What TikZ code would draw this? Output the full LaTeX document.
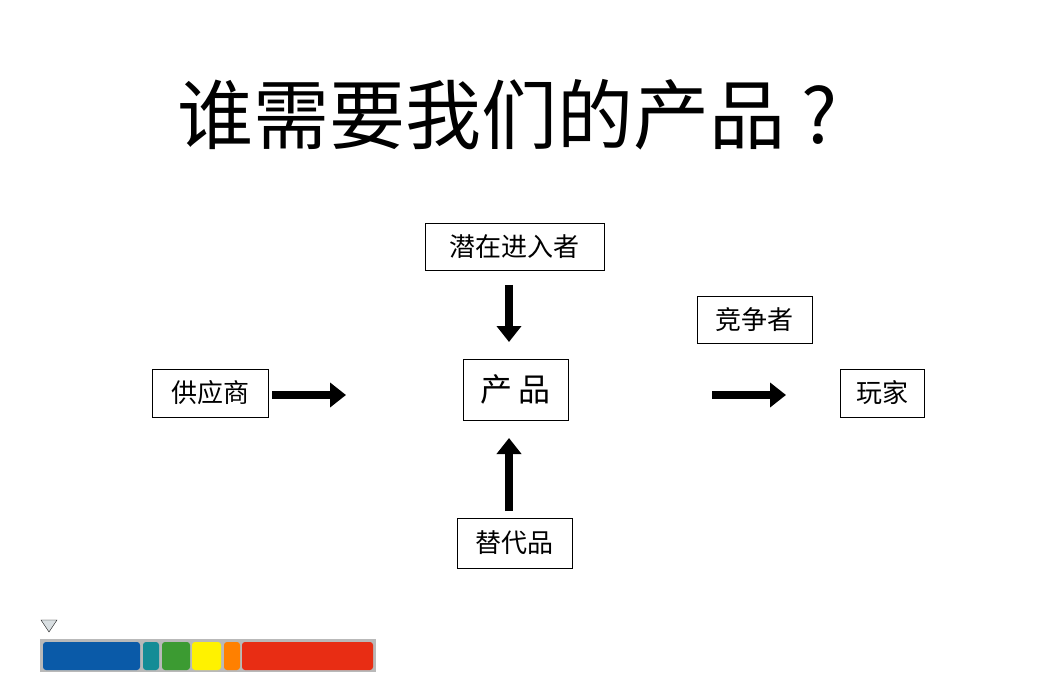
\documentclass[tikz,border=0pt]{standalone}
\usepackage{fontspec}
\setmainfont{Noto Sans CJK SC}
\usetikzlibrary{arrows.meta}
\definecolor{barblue}{RGB}{10,90,168}
\definecolor{barteal}{RGB}{20,140,150}
\definecolor{bargreen}{RGB}{60,155,50}
\definecolor{barred}{RGB}{232,45,20}
\tikzset{
  box/.style={draw,thick,inner sep=0pt,font=\fontsize{26}{30}\selectfont},
  bigarrow/.style={line width=8pt,-{Triangle[length=16pt,width=24pt]}},
}
\begin{document}
\begin{tikzpicture}[x=1pt,y=-1pt]
\useasboundingbox (0,0) rectangle (1056,700);

\node (title) at (508,115) {\fontsize{76}{80}\selectfont 谁需要我们的产品\hspace{16pt}?};

\node[box,minimum width=179,minimum height=47] (entrant) at (514.5,246.5) {潜在进入者};
\node[box,minimum width=105,minimum height=61,font=\fontsize{32}{36}\selectfont] (product) at (515.5,389.5) {产\,品};
\node[box,minimum width=115,minimum height=50] (substitute) at (514.5,543) {替代品};
\node[box,minimum width=116,minimum height=48] (supplier) at (210,393) {供应商};
\node[box,minimum width=115,minimum height=47] (rival) at (754.5,319.5) {竞争者};
\node[box,minimum width=84,minimum height=48] (player) at (882,393) {玩家};

\coordinate (a1) at (509,285); \coordinate (b1) at (509,342);
\coordinate (a2) at (509,511); \coordinate (b2) at (509,438);
\coordinate (a3) at (272,395); \coordinate (b3) at (346,395);
\coordinate (a4) at (712,395); \coordinate (b4) at (786,395);
\foreach \i in {1,...,4}
  \draw[bigarrow] (a\i) -- (b\i);

% progress bar
\draw[fill=cyan!15!gray!30] (41,620) -- (57,620) -- (49,632) -- cycle;
\fill[gray!55] (40,639) rectangle (376,672);
\foreach \xa/\xb/\col in {43/140/barblue,143/159/barteal,162/190/bargreen,192/221/yellow,224/240/orange,242/373/barred}
  \fill[\col,rounded corners=3pt] (\xa,642) rectangle (\xb,670);
\end{tikzpicture}
\end{document}
